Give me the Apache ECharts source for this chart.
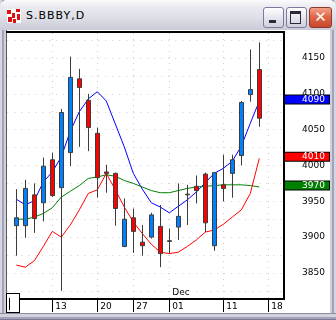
<!DOCTYPE html>
<html><head><meta charset="utf-8">
<script src="https://cdn.jsdelivr.net/npm/echarts@6/dist/echarts.min.js"></script>
<style>
html,body{margin:0;padding:0;background:#fff;}
#win{position:relative;width:336px;height:320px;overflow:hidden;
 background:linear-gradient(to right,#d6d6e2 0,#d6d6e2 2px,#a2a2ba 2px,#a2a2ba 4px,#cfd0dc 4px,#cfd0dc 332px,#a2a2ba 332px,#a2a2ba 334px,#d6d6e2 334px);}
#title{position:absolute;left:0;top:0;width:336px;height:30px;border-radius:7px 7px 0 0;
 background:linear-gradient(#fbfbfd 0%,#e9e9f0 25%,#dedee7 60%,#cbcbd8 100%);}
#ttext{position:absolute;left:26px;top:0;height:30px;line-height:31px;font-family:"DejaVu Sans";font-size:11px;letter-spacing:1px;color:#000;}
#icon{position:absolute;left:7px;top:9px;width:14px;height:14px;background:#fff;}
#icon div{position:absolute;background:#e01010;}
.btn{position:absolute;top:7px;height:19px;border:1px solid #7a7a9c;border-radius:3px;
 background:linear-gradient(#ffffff,#e6e6ee 50%,#cfcfdc);}
#bmin{left:263px;width:19px;}
#bmax{left:286px;width:19px;}
#bcls{left:309px;width:21px;border-color:#8a3a2a;background:linear-gradient(#f2a28c,#e06848 45%,#c8462c);}
#client{position:absolute;left:6px;top:30px;width:324px;height:283px;background:#fff;border-left:1px solid #5a5a5a;box-sizing:border-box;}
#bottomframe{position:absolute;left:0;top:313px;width:336px;height:7px;
 background:linear-gradient(#8c8ca4 0,#8c8ca4 1px,#d2d2de 1px,#d2d2de 4px,#a2a2ba 4px,#a2a2ba 6px,#7a7a94 6px);}
.ln{position:absolute;background:#000;z-index:3;}
#chart{position:absolute;left:0;top:0;width:336px;height:320px;z-index:2;}
#sbox{position:absolute;left:6px;top:293px;width:14px;height:20px;border:1px solid #000;box-sizing:border-box;background:#fff;z-index:4;}
#sbar{position:absolute;left:2px;top:4px;width:1px;height:12px;background:#000;}
</style></head><body>
<div id="win">
 <div id="title">
  <div id="icon"><div style="left:0;top:1px;width:4px;height:4px"></div><div style="left:5px;top:4px;width:3px;height:5px"></div><div style="left:9px;top:0;width:4px;height:3px"></div><div style="left:10px;top:5px;width:3px;height:6px"></div><div style="left:1px;top:8px;width:4px;height:5px"></div><div style="left:6px;top:10px;width:3px;height:4px"></div></div>
  <div id="ttext">S.BBBY,D</div>
  <div class="btn" id="bmin"><div style="position:absolute;left:5px;top:12px;width:7px;height:3px;background:#2a2a3a"></div></div>
  <div class="btn" id="bmax"><div style="position:absolute;left:3px;top:3px;width:9px;height:9px;border:1px solid #2a2a3a;border-top-width:3px"></div></div>
  <div class="btn" id="bcls"><div style="position:absolute;left:3px;top:2px;width:15px;height:15px;color:#fff;font:bold 15px/15px 'DejaVu Sans';text-align:center">✕</div></div>
 </div>
 <div id="client"></div>
 <div id="bottomframe"></div>
 <div class="ln" style="left:6px;top:31px;width:279px;height:2px"></div>
 <div class="ln" style="left:283px;top:31px;width:2px;height:269px"></div>
 <div class="ln" style="left:6px;top:298px;width:279px;height:2px"></div>
 <div id="sbox"><div id="sbar"></div></div>
 <div id="chart"></div>
</div>
<script>
const tradeDates = ['2006-11-07','2006-11-08','2006-11-09','2006-11-10','2006-11-13','2006-11-14','2006-11-15','2006-11-16','2006-11-17','2006-11-20','2006-11-21','2006-11-22','2006-11-24','2006-11-27','2006-11-28','2006-11-29','2006-11-30','2006-12-01','2006-12-04','2006-12-05','2006-12-06','2006-12-07','2006-12-08','2006-12-11','2006-12-12','2006-12-13','2006-12-14','2006-12-15'];
const padBefore = ['2006-11-06'];
const padAfter = ['2006-12-18','2006-12-19','2006-12-20'];
const opens  = [3916,3916,3959,3948,4008,3969,4018,4121,4091,4045,3991,3989,3887,3927,3893,3900,3915,3895,3914,3960,3971,3988,3888,3973,3989,4014,4099,4134];
const closes = [3927,3968,3926,3999,3958,4074,4123,4109,4053,3983,3989,3940,3925,3908,3888,3931,3877,3894,3929,3959,3965,3920,3990,3968,4008,4088,4106,4066];
const highs  = [3967,3980,3975,4011,4018,4079,4152,4135,4100,4053,4001,3990,3954,3940,3917,3934,3945,3912,3975,3973,3986,3990,3991,4015,4015,4090,4162,4172];
const lows   = [3874,3899,3906,3922,3956,3825,3999,4026,4020,3955,3962,3916,3886,3878,3874,3898,3858,3877,3896,3917,3947,3907,3881,3950,3955,4000,4089,4054];
const maFast = [3953,3945,3951,3977,3991,4012,4048,4075,4093,4103,4090,4058,4026,3989,3967,3948,3942,3934,3943,3952,3963,3976,3989,3996,4006,4027,4059,4090];
const maSlow = [3925,3925,3928,3933,3941,3956,3964,3972,3982,3984,3987,3985,3979,3975,3970,3965,3962,3962,3965,3968,3970,3971,3972,3973,3973,3973,3972,3970];
const stopLine = [3861,3858,3867,3887,3908,3900,3917,3938,3961,3966,3989,3966,3942,3921,3905,3890,3879,3877,3879,3887,3896,3907,3910,3918,3928,3938,3961,4010];
const tickDates = ['2006-11-13','2006-11-20','2006-11-27','2006-12-01','2006-12-11','2006-12-18'];
const monthDates = ['2006-12-01'];
const monthNames = ['Dec'];
const priceLabels = [3850,3900,3950,4000,4050,4100,4150];
const gridLevels = [3825,3850,3875,3900,3925,3950,3975,4000,4025,4050,4075,4100,4125,4150,4175];

const axisDates = padBefore.concat(tradeDates, padAfter);
const used = axisDates.slice(0, padBefore.length + tradeDates.length);
const slot = arr => used.map(d => { const i = tradeDates.indexOf(d); return i < 0 ? '-' : arr[i]; });
const candleData = used.map(d => { const i = tradeDates.indexOf(d); return i < 0 ? ['-','-','-','-'] : [opens[i], closes[i], lows[i], highs[i]]; });
const isTick = i => tickDates.indexOf(axisDates[i]) >= 0;
const isMonth = i => monthDates.indexOf(axisDates[i]) >= 0;
const FONT = 'DejaVu Sans';
const boxLabel = (bg) => ({
  show: true, formatter: p => String(Math.round(p.value)), distance: 25.7, offset: [0, -1.5],
  color: '#fff', backgroundColor: bg, borderColor: '#000', borderWidth: 1,
  padding: [0, 0, 0, 17], width: 27, height: 8, lineHeight: 8, fontFamily: FONT, fontSize: 9, align: 'left'
});
const chart = echarts.init(document.getElementById('chart'), null, {renderer: 'canvas'});
chart.setOption({
  animation: false,
  backgroundColor: 'transparent',
  grid: {left: 7.3, right: 49.7, top: 33, bottom: 22, containLabel: false},
  xAxis: [{
    type: 'category', data: axisDates, boundaryGap: false,
    axisLine: {show: false},
    axisTick: {show: true, interval: i => isTick(i), length: 14, lineStyle: {color: '#000', width: 1}},
    axisLabel: {interval: i => isTick(i), formatter: v => v.slice(8), align: 'left', padding: [0, 0, 0, 3], margin: 4, color: '#000', fontFamily: FONT, fontSize: 9},
    splitLine: {show: true, interval: i => isTick(i), lineStyle: {color: '#cdcdcd', width: 1, type: [1, 5]}}
  }, {
    type: 'category', data: axisDates, boundaryGap: false, position: 'bottom',
    axisLine: {show: false}, axisTick: {show: false}, splitLine: {show: false},
    axisLabel: {inside: true, interval: i => isMonth(i), formatter: v => monthNames[monthDates.indexOf(v)] || '', align: 'left', padding: [0, 0, 0, 3], margin: 1, color: '#000', fontFamily: FONT, fontSize: 9}
  }],
  yAxis: {
    type: 'value', position: 'right', min: 3815, max: 4185, scale: true,
    axisLine: {show: false},
    axisTick: {show: false, customValues: gridLevels},
    axisLabel: {customValues: priceLabels, formatter: v => String(v), margin: 15.7, color: '#000', fontFamily: FONT, fontSize: 9, padding: [0, 0, 3, 0]},
    splitLine: {show: true, lineStyle: {color: '#cdcdcd', width: 1, type: [1, 6]}}
  },
  series: [
    {type: 'line', name: 'fast', data: slot(maFast), symbol: 'none', z: 2, lineStyle: {color: '#0000ff', width: 1}, endLabel: boxLabel('#0000ff')},
    {type: 'line', name: 'slow', data: slot(maSlow), symbol: 'none', z: 2, lineStyle: {color: '#008000', width: 1}, endLabel: boxLabel('#008000')},
    {type: 'line', name: 'stop', data: slot(stopLine), symbol: 'none', z: 2, lineStyle: {color: '#ff0000', width: 1}, endLabel: boxLabel('#ff0000')},
    {type: 'candlestick', name: 'S.BBBY', data: candleData, barWidth: 5, z: 3,
     itemStyle: {color: '#0080ff', color0: '#ff0000', borderColor: '#3c3c3c', borderColor0: '#3c3c3c', borderWidth: 1}}
  ]
});
</script>
</body></html>
